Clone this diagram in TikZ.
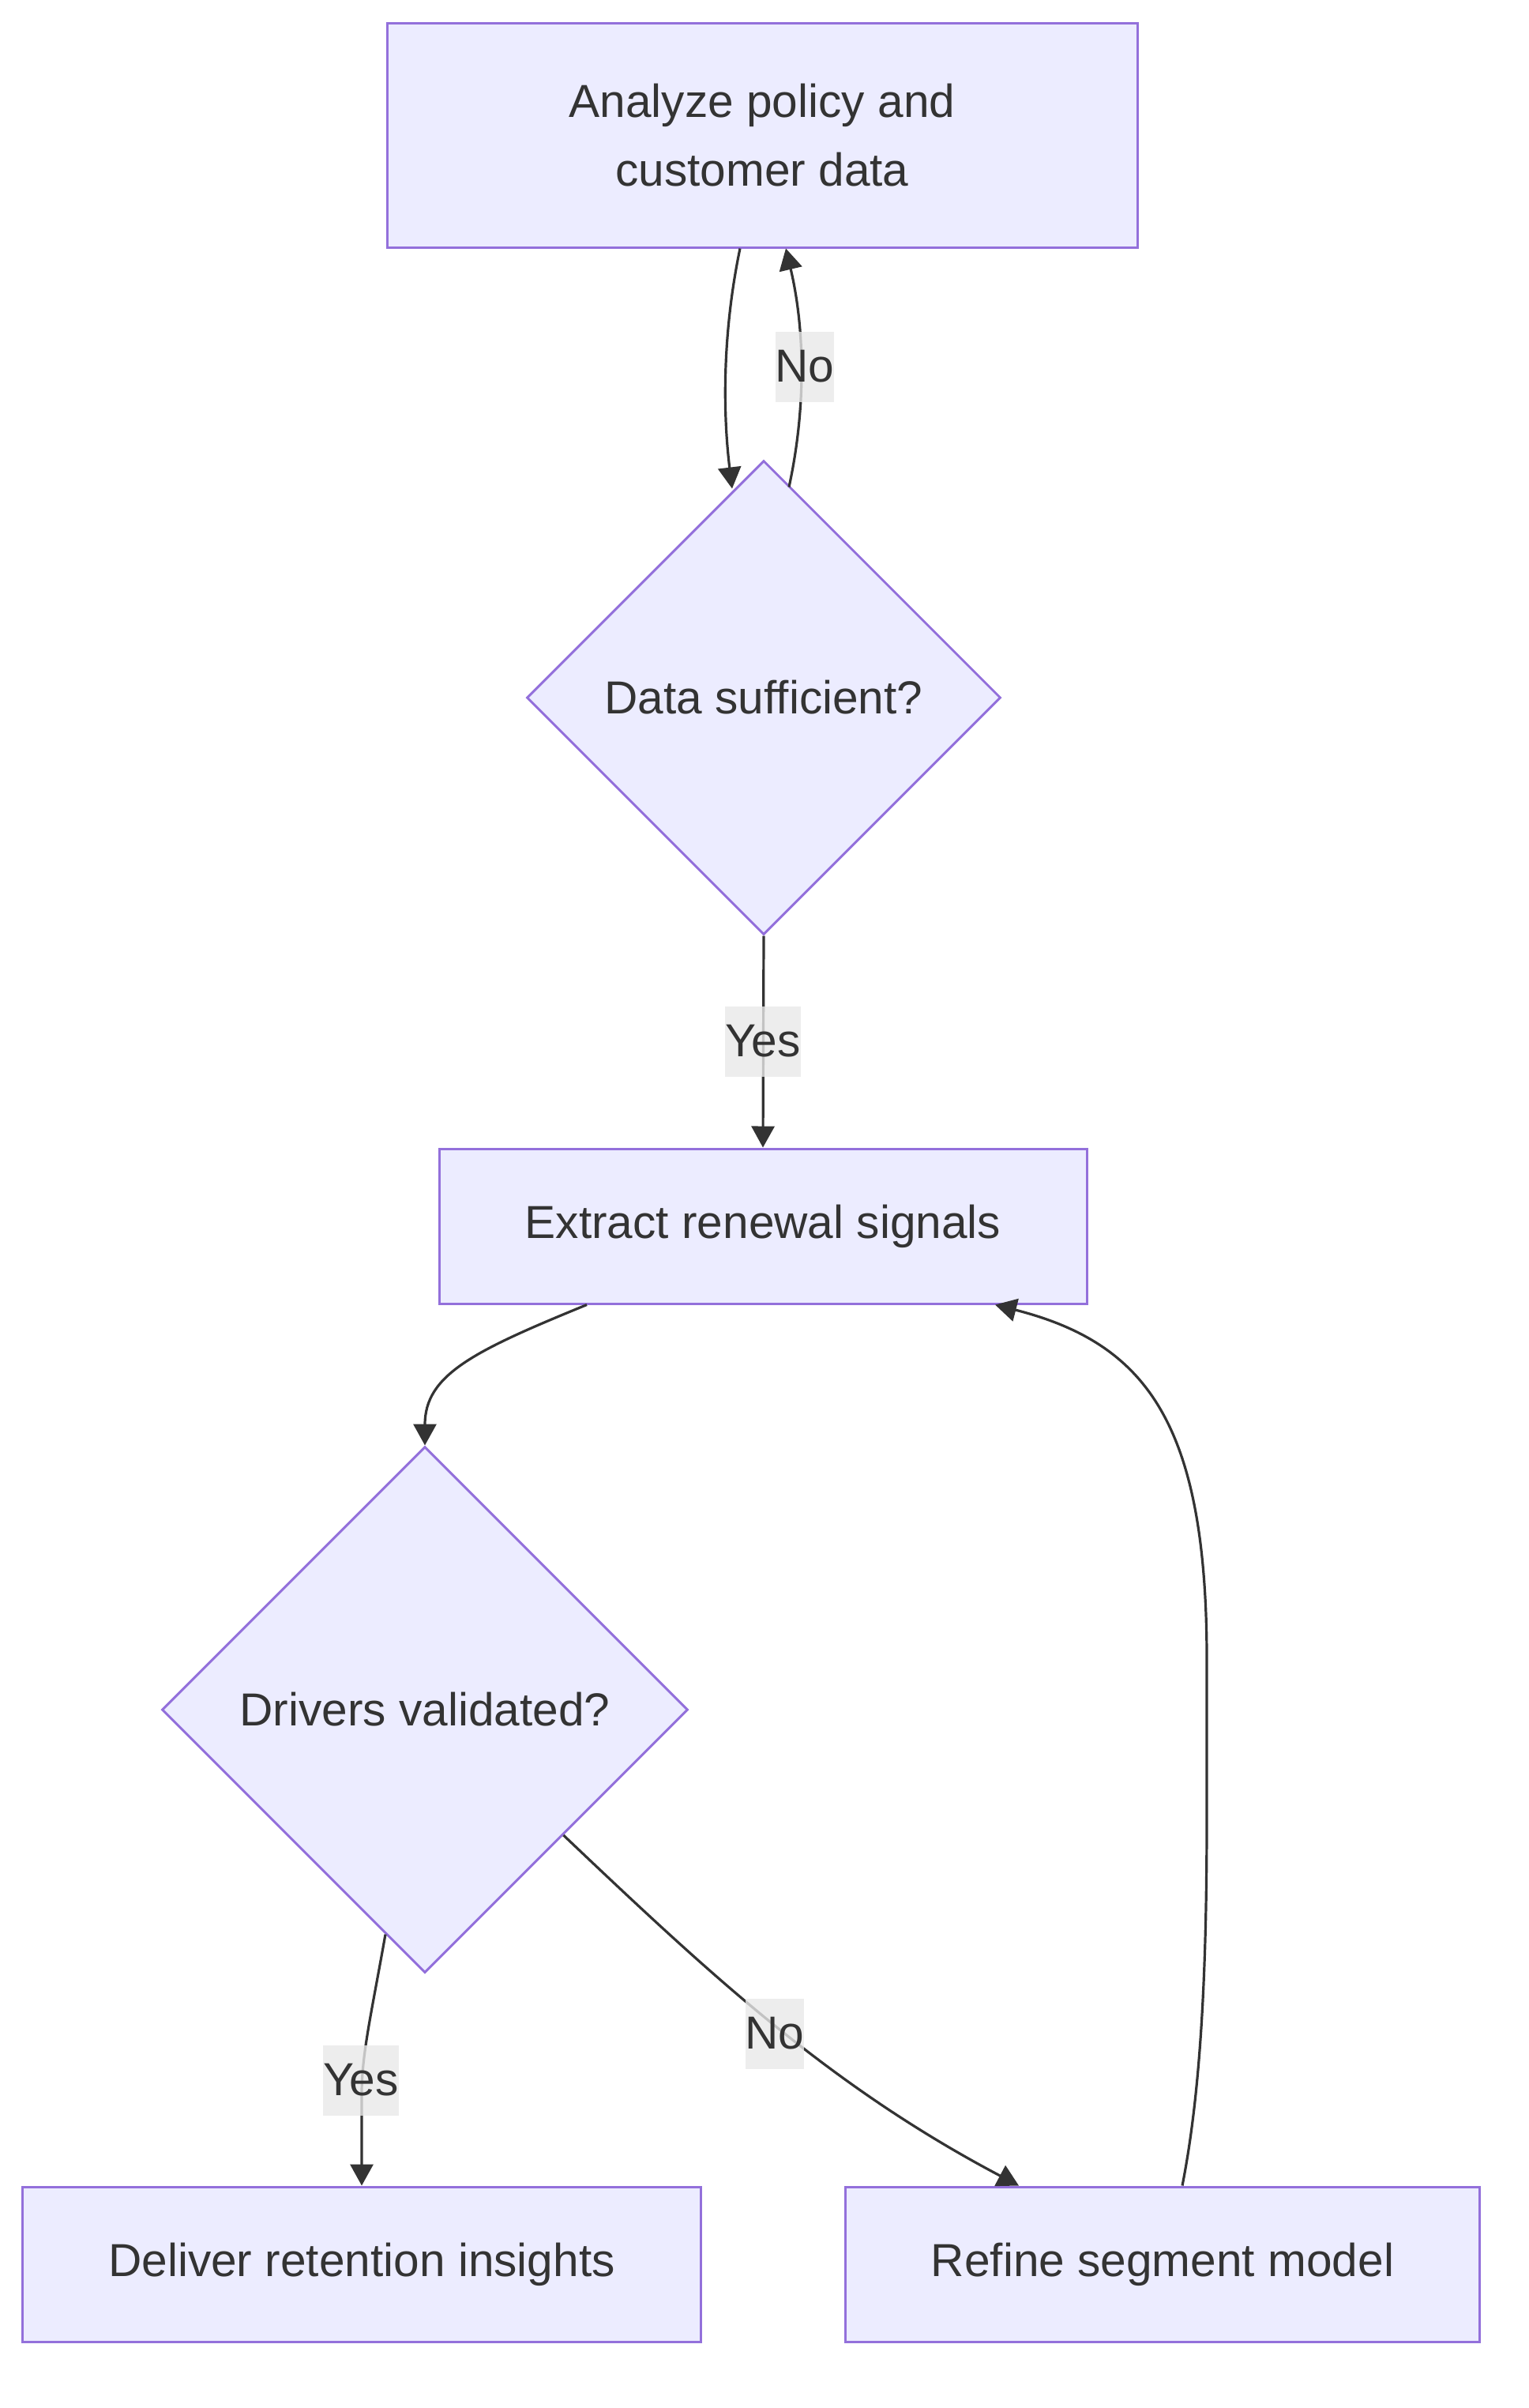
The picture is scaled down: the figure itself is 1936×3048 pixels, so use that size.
\documentclass[tikz,border=0pt]{standalone}
\usepackage{fontspec}
\setmainfont{Liberation Sans}
\usetikzlibrary{shapes.geometric,arrows.meta,calc}
\definecolor{nodefill}{HTML}{ECECFF}
\definecolor{nodeline}{HTML}{9370DB}
\definecolor{txt}{HTML}{333333}
\definecolor{edgecol}{HTML}{333333}
\definecolor{lblbg}{HTML}{E8E8E8}
\begin{document}
\begin{tikzpicture}[x=0.5pt,y=-0.5pt,
  every node/.style={font=\fontsize{29.3pt}{43.7pt}\selectfont, text=txt},
  procbox/.style={rectangle, draw=nodeline, fill=nodefill, line width=1.5pt, inner sep=0pt, align=center},
  decide/.style={diamond, draw=nodeline, fill=nodefill, line width=1.5pt, inner sep=0pt, aspect=1},
  flow/.style={draw=edgecol, line width=1.6pt, -{Triangle[length=13.5pt,width=14.5pt]}},
  lbl/.style={fill=lblbg, fill opacity=0.8, text opacity=1, inner xsep=0pt, inner ysep=0pt, minimum height=44.5pt}
  ]
\useasboundingbox (0,0) rectangle (1936,3048);
\node[procbox, minimum width=475pt, minimum height=142pt] (A) at (965,171) {Analyze policy and\\customer data};
\node[decide, minimum width=300pt, minimum height=300pt] (D1) at (967,883) {Data sufficient?};
\node[procbox, minimum width=410pt, minimum height=98pt] (B) at (966,1552) {Extract renewal signals};
\node[decide, minimum width=333pt, minimum height=333pt] (D2) at (538,2164) {Drivers validated?};
\node[procbox, minimum width=429.5pt, minimum height=98pt] (C) at (458,2866) {Deliver retention insights};
\node[procbox, minimum width=401.5pt, minimum height=98pt] (E) at (1472,2866) {Refine segment model};

% A -> D1
\draw[flow] ($(A.south)+(-28,0)$) .. controls (915,420) and (915,520) .. ($(D1.north)+(-40,37)$);
% D1 -> A (No)
\draw[flow] ($(D1.north)+(32,35)$) .. controls (1020,520) and (1020,420) .. ($(A.south)+(30,0)$);
\node[lbl] (lno1) at (1019,464) {No};
% D1 -> B (Yes)
\draw[flow] (D1.south) -- (B.north);
\node[lbl] (lyes1) at (966,1318) {Yes};
% B -> D2
\draw[flow] ($(B.south)+(-223,0)$) .. controls (600,1710) and (538,1740) .. (D2.north);
% E -> B
\draw[flow] ($(E.north)+(25,0)$) .. controls (1520,2650) and (1528,2500) .. (1528,2300) -- (1528,2100) .. controls (1528,1800) and (1450,1700) .. ($(B.south)+(294,0)$);
% D2 -> C (Yes)
\draw[flow] ($(D2.south)+(-50,-50)$) .. controls (470,2550) and (458,2600) .. (458,2650) -- (C.north);
\node[lbl] (lyes2) at (457,2633) {Yes};
% D2 -> E (No)
\draw[flow] ($(D2.east)+(-159,159)$) .. controls (900,2500) and (1050,2640) .. ($(E.north)+(-182,0)$);
\node[lbl] (lno2) at (981,2574) {No};
\end{tikzpicture}
\end{document}
